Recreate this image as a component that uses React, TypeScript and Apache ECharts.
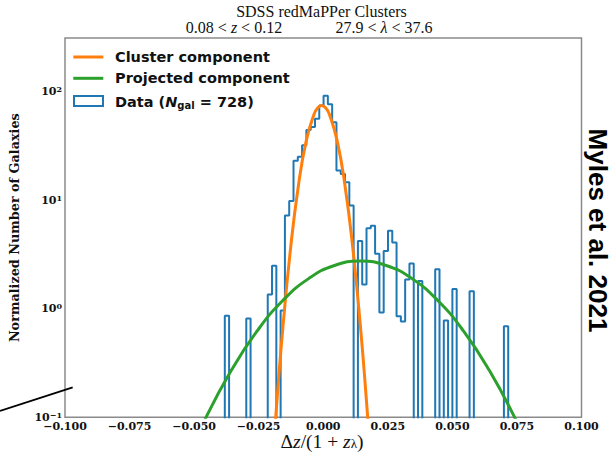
import React, { useEffect, useRef } from 'react';
import * as echarts from 'echarts';

// Histogram (step outline), bins of equal width starting at binFirstEdge
const binFirstEdge = -0.03812;
const binWidth = 0.0016627;
const binCounts = [
  0.86, 0, 0, 0, 0, 0.81, 0, 0, 0, 0,
  1.35, 2.48, 0, 0.96, 7.2, 9.8, 23, 25, 32, 44,
  47, 56, 74, 91, 76, 52, 18.7, 17.4, 14.6, 8.9,
  0, 4.2, 1.67, 5.5, 5.8, 3.2, 0.92, 3.4, 5.2, 4.06,
  0.85, 0.76, 1.86, 2.6, 0, 1.8, 0, 0, 0, 2.3,
  0, 0.78, 0, 1.52, 0, 0, 0, 1.45, 0, 0,
  0, 0, 0, 0, 0, 0.69,
];

// Cluster component curve
const clusterX = [-0.0196, -0.0184, -0.0156, -0.0126, -0.0096, -0.0066, -0.0036, -0.0021, -0.0006, 0.0009, 0.0024, 0.0054, 0.0084, 0.0114, 0.0144, 0.0172, 0.0184];
const clusterY = [0.04, 0.101, 0.682, 3.69, 13.7, 35.0, 61.4, 70.6, 74, 70.6, 61.4, 35.0, 13.7, 3.69, 0.682, 0.101, 0.04];

// Projected component curve
const projectedX = [-0.05565, -0.04565, -0.03565, -0.02565, -0.01565, -0.00565, 0.00435, 0.01435, 0.02435, 0.03435, 0.04435, 0.05435, 0.06435, 0.07435, 0.08435];
const projectedY = [0.029, 0.097, 0.269, 0.621, 1.188, 1.89, 2.497, 2.74, 2.497, 1.89, 1.188, 0.621, 0.269, 0.097, 0.029];

const legendNames = ['Cluster component', 'Projected component'];
const nGal = 728;
const titleLine1 = 'SDSS redMaPPer Clusters';
const zRange = ['0.08', '0.12'];
const lambdaRange = ['27.9', '37.6'];
const yExponents: Record<string, string> = { '-1': '−1', '0': '0', '1': '1', '2': '2' };
const sideNote = 'Myles et al. 2021';
const yAxisTitle = 'Normalized Number of Galaxies';

const BLUE = '#1f77b4';
const ORANGE = '#ff7f0e';
const GREEN = '#2ca02c';
const SERIF = '"Liberation Serif", "DejaVu Serif", serif';
const DSERIF = '"DejaVu Serif", serif';
const SANS = '"DejaVu Sans", sans-serif';

export default function App() {
  const ref = useRef<HTMLDivElement>(null);
  useEffect(() => {
    const chart = echarts.init(ref.current!, null, { renderer: 'svg' });
    const floor = 0.01;
    const hist: number[][] = [[binFirstEdge, floor]];
    binCounts.forEach((c, i) => {
      const l = binFirstEdge + i * binWidth;
      const r = l + binWidth;
      const v = c > 0 ? c : floor;
      hist.push([l, v], [r, v]);
    });
    hist.push([binFirstEdge + binCounts.length * binWidth, floor]);

    const cluster = clusterX.map((x, i) => [x, clusterY[i]]);
    const projected = projectedX.map((x, i) => [x, projectedY[i]]);

    chart.setOption({
      animation: false,
      grid: {
        left: 61, top: 38, width: 520.5, height: 379.3,
        show: true, borderColor: '#8a8a8a', borderWidth: 1.5, backgroundColor: 'transparent',
      },
      xAxis: {
        type: 'value', min: -0.1, max: 0.1, interval: 0.025,
        axisLine: { show: false }, axisTick: { show: false }, splitLine: { show: false },
        axisLabel: {
          margin: 3.5, color: '#111', fontFamily: DSERIF, fontWeight: 'bold', fontSize: 11, lineHeight: 11,
          formatter: (v: number) => (v < -1e-9 ? '−' : '') + Math.abs(v).toFixed(3),
        },
      },
      yAxis: {
        type: 'log', logBase: 10, min: 0.1, max: 310,
        axisLine: { show: false }, axisTick: { show: false }, splitLine: { show: false },
        minorTick: { show: false }, minorSplitLine: { show: false },
        name: yAxisTitle, nameLocation: 'middle', nameGap: 44,
        nameTextStyle: { fontFamily: DSERIF, fontWeight: 'bold', fontSize: 12.8, color: '#111' },
        axisLabel: {
          margin: 3, color: '#111',
          formatter: (v: number) => {
            const e = Math.log10(v);
            const r = Math.round(e);
            if (Math.abs(e - r) > 1e-6) return '';
            return '{b|10}{s|' + yExponents[String(r)] + '}';
          },
          rich: {
            b: { fontFamily: DSERIF, fontWeight: 'bold', fontSize: 11, lineHeight: 13, color: '#111' },
            s: { fontFamily: DSERIF, fontWeight: 'bold', fontSize: 8, lineHeight: 5, verticalAlign: 'top', color: '#111' },
          },
        },
      },
      series: [
        {
          type: 'line', data: hist, symbol: 'none', clip: true,
          lineStyle: { color: BLUE, width: 2 }, z: 2,
        },
        {
          type: 'line', data: cluster, symbol: 'none', smooth: true, clip: true,
          lineStyle: { color: ORANGE, width: 3 }, z: 3,
        },
        {
          type: 'line', data: projected, symbol: 'none', smooth: true, clip: true,
          lineStyle: { color: GREEN, width: 3 }, z: 4,
        },
      ],
      graphic: [
        // title
        {
          type: 'text', x: 321.5, y: 11, z: 10,
          style: { text: titleLine1, font: '16px ' + SERIF, lineHeight: 16, fill: '#111', align: 'center', verticalAlign: 'middle' },
        },
        {
          type: 'text', x: 234, y: 27.5, z: 10,
          style: {
            text: '{r|' + zRange[0] + ' < }{i|z}{r| < ' + zRange[1] + '}',
            align: 'center', verticalAlign: 'middle', fill: '#111',
            rich: {
              r: { fontFamily: SERIF, fontSize: 16, lineHeight: 16, fill: '#111' },
              i: { fontFamily: SERIF, fontSize: 16, lineHeight: 16, fontStyle: 'italic', fill: '#111' },
            },
          },
        },
        {
          type: 'text', x: 384, y: 27.5, z: 10,
          style: {
            text: '{r|' + lambdaRange[0] + ' < }{i|λ}{r| < ' + lambdaRange[1] + '}',
            align: 'center', verticalAlign: 'middle', fill: '#111',
            rich: {
              r: { fontFamily: SERIF, fontSize: 16, lineHeight: 16, fill: '#111' },
              i: { fontFamily: SERIF, fontSize: 16, lineHeight: 16, fontStyle: 'italic', fill: '#111' },
            },
          },
        },
        // x axis label
        {
          type: 'text', x: 322, y: 441, z: 10,
          style: {
            text: '{r|Δ}{i|z}{r|/(1 + }{i|z}{s|λ}{r|)}',
            align: 'center', verticalAlign: 'middle', fill: '#111',
            rich: {
              r: { fontFamily: SERIF, fontSize: 19.5, lineHeight: 18, fill: '#111' },
              i: { fontFamily: SERIF, fontSize: 19.5, lineHeight: 18, fontStyle: 'italic', fill: '#111' },
              s: { fontFamily: SERIF, fontSize: 13, lineHeight: 7, verticalAlign: 'bottom', fill: '#111' },
            },
          },
        },
        // legend
        { type: 'line', z: 10, shape: { x1: 73.3, y1: 57, x2: 103.3, y2: 57 }, style: { stroke: ORANGE, lineWidth: 3 } },
        {
          type: 'text', x: 115, y: 57, z: 10,
          style: { text: legendNames[0], font: 'bold 14.5px ' + SANS, fill: '#111', align: 'left', verticalAlign: 'middle' },
        },
        { type: 'line', z: 10, shape: { x1: 73.3, y1: 78.3, x2: 103.3, y2: 78.3 }, style: { stroke: GREEN, lineWidth: 3 } },
        {
          type: 'text', x: 115, y: 78.3, z: 10,
          style: { text: legendNames[1], font: 'bold 14.5px ' + SANS, fill: '#111', align: 'left', verticalAlign: 'middle' },
        },
        { type: 'rect', z: 10, shape: { x: 74, y: 96, width: 29, height: 10 }, style: { fill: 'none', stroke: BLUE, lineWidth: 2 } },
        {
          type: 'text', x: 115, y: 101.5, z: 10,
          style: {
            text: '{a|Data (}{n|N}{s|gal}{a| = ' + nGal + ')}',
            align: 'left', verticalAlign: 'middle', fill: '#111',
            rich: {
              a: { fontFamily: SANS, fontWeight: 'bold', fontSize: 14.5, lineHeight: 18, fill: '#111' },
              n: { fontFamily: SANS, fontWeight: 'bold', fontStyle: 'italic', fontSize: 14.5, lineHeight: 18, fill: '#111' },
              s: { fontFamily: SANS, fontWeight: 'bold', fontSize: 10, lineHeight: 10, verticalAlign: 'bottom', fill: '#111' },
            },
          },
        },
        // side note
        {
          type: 'text', x: 598, y: 230.5, rotation: -Math.PI / 2, z: 10,
          style: { text: sideNote, font: 'bold 26px "Liberation Sans", Arial, sans-serif', fill: '#000', align: 'center', verticalAlign: 'middle' },
        },
        // stray black line at lower left
        { type: 'line', z: 20, shape: { x1: 0, y1: 411, x2: 72.7, y2: 387.3 }, style: { stroke: '#000', lineWidth: 1.8 } },
      ],
    });
    return () => chart.dispose();
  }, []);
  return <div ref={ref} style={{ position: 'absolute', left: 0, top: 0, width: 616, height: 452 }} />;
}
